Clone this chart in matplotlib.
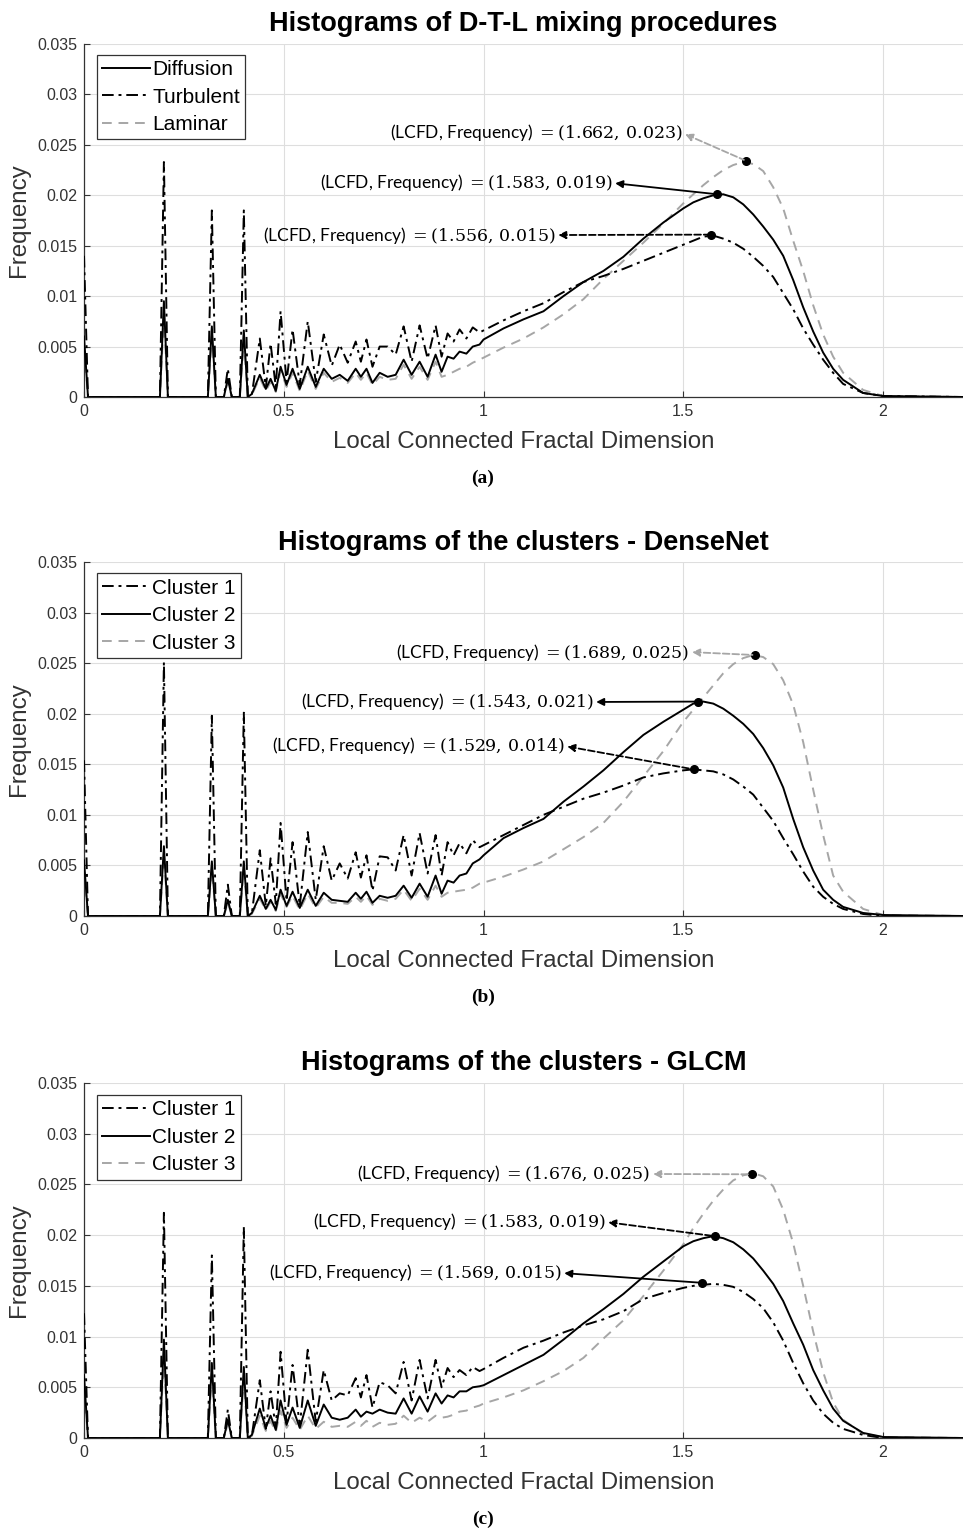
import matplotlib
matplotlib.use('Agg')
import matplotlib.pyplot as plt
import numpy as np

plt.rcParams['font.family'] = ['Liberation Sans', 'DejaVu Sans']
plt.rcParams['mathtext.fontset'] = 'dejavuserif'

# histogram bin centres (Local Connected Fractal Dimension)
lcfd = [0, 0.01, 0.19, 0.2, 0.21, 0.31, 0.32, 0.33, 0.35, 0.36, 0.37, 0.39, 0.4, 0.41,
        0.42, 0.44, 0.455, 0.467, 0.48, 0.492, 0.507, 0.522, 0.54, 0.56, 0.58, 0.6,
        0.62, 0.64, 0.66, 0.68, 0.693, 0.707, 0.722, 0.74, 0.76, 0.78, 0.8, 0.82, 0.84,
        0.86, 0.88, 0.895, 0.91, 0.925, 0.94, 0.957, 0.973, 0.99,
        1.0, 1.05, 1.1, 1.15, 1.2, 1.25, 1.3, 1.35, 1.4, 1.45,
        1.5, 1.525, 1.55, 1.575, 1.6, 1.625, 1.65, 1.675, 1.7, 1.725,
        1.75, 1.775, 1.8, 1.825, 1.85, 1.875, 1.9, 1.95, 2.0, 2.2]

# (a) D-T-L mixing procedures
diffusion = [0.0060, 0, 0, 0.0095, 0, 0, 0.0070, 0, 0, 0.0018, 0, 0, 0.0066, 0,
             0.0003, 0.0022, 0.0008, 0.0018, 0.0006, 0.0030, 0.0012, 0.0028, 0.0008, 0.0030,
             0.0010, 0.0028, 0.0018, 0.0022, 0.0016, 0.0028, 0.0020, 0.0028, 0.0014, 0.0024,
             0.0020, 0.0022, 0.0037, 0.0022, 0.0035, 0.0020, 0.0042, 0.0025, 0.0040, 0.0038,
             0.0045, 0.0043, 0.0050, 0.0052,
             0.0057, 0.0068, 0.0077, 0.0085, 0.0100, 0.0114, 0.0125, 0.0139, 0.0157, 0.0173,
             0.0187, 0.0193, 0.0197, 0.0200, 0.0201, 0.0198, 0.0191, 0.0181, 0.0169, 0.0156,
             0.0140, 0.0116, 0.0089, 0.0065, 0.0044, 0.0028, 0.0017, 0.0004, 0.0001, 0]
turbulent = [0.0140, 0, 0, 0.0233, 0, 0, 0.0185, 0, 0, 0.0028, 0, 0, 0.0185, 0,
             0.0002, 0.0058, 0.0009, 0.0053, 0.0010, 0.0085, 0.0015, 0.0067, 0.0012, 0.0075,
             0.0015, 0.0062, 0.0031, 0.0052, 0.0034, 0.0055, 0.0035, 0.0057, 0.0030, 0.0050,
             0.0050, 0.0042, 0.0070, 0.0035, 0.0071, 0.0038, 0.0071, 0.0040, 0.0063, 0.0055,
             0.0067, 0.0058, 0.0069, 0.0064,
             0.0066, 0.0076, 0.0085, 0.0093, 0.0104, 0.0114, 0.0120, 0.0127, 0.0135, 0.0143,
             0.0151, 0.0155, 0.0159, 0.0160, 0.0157, 0.0153, 0.0147, 0.0139, 0.0130, 0.0119,
             0.0103, 0.0087, 0.0068, 0.0052, 0.0037, 0.0024, 0.0013, 0.0004, 0.0001, 0]
laminar = [0.0050, 0, 0, 0.0080, 0, 0, 0.0060, 0, 0, 0.0015, 0, 0, 0.0055, 0,
           0.0002, 0.0019, 0.0006, 0.0015, 0.0005, 0.0026, 0.0010, 0.0024, 0.0006, 0.0026,
           0.0008, 0.0024, 0.0015, 0.0019, 0.0014, 0.0024, 0.0017, 0.0024, 0.0012, 0.0020,
           0.0017, 0.0018, 0.0032, 0.0018, 0.0030, 0.0017, 0.0035, 0.0020, 0.0022, 0.0025,
           0.0028, 0.0030, 0.0034, 0.0037,
           0.0039, 0.0049, 0.0058, 0.0069, 0.0082, 0.0097, 0.0117, 0.0135, 0.0153, 0.0172,
           0.0192, 0.0201, 0.0210, 0.0218, 0.0225, 0.0230, 0.0233, 0.0231, 0.0224, 0.0208,
           0.0187, 0.0155, 0.0125, 0.0091, 0.0062, 0.0040, 0.0024, 0.0007, 0.0001, 0]

# (b) clusters - DenseNet
dn_cluster1 = [0.0154, 0, 0, 0.0251, 0, 0, 0.0198, 0, 0, 0.0031, 0, 0, 0.0201, 0,
               0.0002, 0.0065, 0.0010, 0.0057, 0.0012, 0.0092, 0.0015, 0.0073, 0.0010, 0.0083,
               0.0016, 0.0069, 0.0035, 0.0052, 0.0037, 0.0063, 0.0038, 0.0060, 0.0025, 0.0059,
               0.0058, 0.0045, 0.0080, 0.0040, 0.0082, 0.0042, 0.0080, 0.0040, 0.0073, 0.0060,
               0.0072, 0.0062, 0.0075, 0.0068,
               0.0070, 0.0080, 0.0090, 0.0100, 0.0108, 0.0116, 0.0122, 0.0129, 0.0137, 0.0141,
               0.0144, 0.0145, 0.0144, 0.0143, 0.0140, 0.0135, 0.0128, 0.0120, 0.0107, 0.0094,
               0.0077, 0.0061, 0.0044, 0.0029, 0.0019, 0.0012, 0.0007, 0.0002, 0, 0]
dn_cluster2 = [0.0055, 0, 0, 0.0069, 0, 0, 0.0054, 0, 0, 0.0016, 0, 0, 0.0054, 0,
               0.0003, 0.0020, 0.0007, 0.0016, 0.0006, 0.0026, 0.0010, 0.0024, 0.0008, 0.0026,
               0.0010, 0.0023, 0.0016, 0.0015, 0.0014, 0.0023, 0.0017, 0.0024, 0.0013, 0.0020,
               0.0018, 0.0020, 0.0030, 0.0018, 0.0032, 0.0019, 0.0040, 0.0022, 0.0035, 0.0033,
               0.0040, 0.0042, 0.0052, 0.0056,
               0.0060, 0.0077, 0.0087, 0.0096, 0.0113, 0.0128, 0.0144, 0.0162, 0.0179, 0.0192,
               0.0204, 0.0210, 0.0212, 0.0210, 0.0205, 0.0198, 0.0190, 0.0180, 0.0166, 0.0149,
               0.0127, 0.0096, 0.0068, 0.0045, 0.0026, 0.0016, 0.0009, 0.0003, 0.0001, 0]
dn_cluster3 = [0.0045, 0, 0, 0.0060, 0, 0, 0.0046, 0, 0, 0.0013, 0, 0, 0.0046, 0,
               0.0002, 0.0017, 0.0006, 0.0014, 0.0005, 0.0022, 0.0009, 0.0020, 0.0006, 0.0022,
               0.0008, 0.0019, 0.0013, 0.0013, 0.0012, 0.0019, 0.0014, 0.0020, 0.0011, 0.0017,
               0.0015, 0.0017, 0.0026, 0.0015, 0.0027, 0.0016, 0.0030, 0.0019, 0.0023, 0.0024,
               0.0025, 0.0026, 0.0028, 0.0032,
               0.0033, 0.0039, 0.0046, 0.0054, 0.0066, 0.0078, 0.0092, 0.0113, 0.0138, 0.0163,
               0.0192, 0.0204, 0.0216, 0.0228, 0.0240, 0.0249, 0.0255, 0.0258, 0.0256, 0.0249,
               0.0233, 0.0209, 0.0172, 0.0125, 0.0080, 0.0040, 0.0024, 0.0007, 0.0001, 0]

# (c) clusters - GLCM
gl_cluster1 = [0.0123, 0, 0, 0.0222, 0, 0, 0.0180, 0, 0, 0.0028, 0, 0, 0.0208, 0,
               0.0002, 0.0057, 0.0009, 0.0046, 0.0010, 0.0085, 0.0015, 0.0072, 0.0012, 0.0087,
               0.0016, 0.0067, 0.0037, 0.0044, 0.0042, 0.0059, 0.0040, 0.0062, 0.0030, 0.0055,
               0.0052, 0.0044, 0.0075, 0.0037, 0.0077, 0.0039, 0.0077, 0.0050, 0.0069, 0.0060,
               0.0067, 0.0062, 0.0070, 0.0066,
               0.0068, 0.0079, 0.0089, 0.0096, 0.0104, 0.0111, 0.0117, 0.0125, 0.0137, 0.0143,
               0.0148, 0.0150, 0.0151, 0.0152, 0.0151, 0.0149, 0.0144, 0.0137, 0.0128, 0.0114,
               0.0096, 0.0074, 0.0054, 0.0037, 0.0024, 0.0015, 0.0009, 0.0003, 0, 0]
gl_cluster2 = [0.0062, 0, 0, 0.0097, 0, 0, 0.0074, 0, 0, 0.0018, 0, 0, 0.0070, 0,
               0.0003, 0.0029, 0.0010, 0.0022, 0.0008, 0.0037, 0.0013, 0.0030, 0.0010, 0.0037,
               0.0012, 0.0033, 0.0020, 0.0018, 0.0020, 0.0028, 0.0021, 0.0026, 0.0024, 0.0028,
               0.0025, 0.0024, 0.0039, 0.0024, 0.0041, 0.0026, 0.0044, 0.0034, 0.0042, 0.0040,
               0.0046, 0.0046, 0.0050, 0.0051,
               0.0052, 0.0062, 0.0072, 0.0082, 0.0097, 0.0113, 0.0127, 0.0142, 0.0159, 0.0174,
               0.0189, 0.0194, 0.0197, 0.0199, 0.0197, 0.0193, 0.0186, 0.0177, 0.0165, 0.0152,
               0.0135, 0.0113, 0.0092, 0.0067, 0.0047, 0.0029, 0.0017, 0.0005, 0.0001, 0]
gl_cluster3 = [0.0050, 0, 0, 0.0080, 0, 0, 0.0060, 0, 0, 0.0014, 0, 0, 0.0058, 0,
               0.0002, 0.0022, 0.0007, 0.0017, 0.0006, 0.0027, 0.0010, 0.0020, 0.0008, 0.0022,
               0.0009, 0.0016, 0.0011, 0.0012, 0.0011, 0.0016, 0.0012, 0.0017, 0.0011, 0.0015,
               0.0013, 0.0014, 0.0022, 0.0015, 0.0020, 0.0016, 0.0022, 0.0020, 0.0021, 0.0023,
               0.0026, 0.0027, 0.0030, 0.0032,
               0.0034, 0.0040, 0.0047, 0.0056, 0.0066, 0.0079, 0.0098, 0.0116, 0.0140, 0.0165,
               0.0191, 0.0207, 0.0221, 0.0234, 0.0245, 0.0254, 0.0259, 0.0261, 0.0258, 0.0248,
               0.0225, 0.0192, 0.0150, 0.0105, 0.0065, 0.0035, 0.0018, 0.0004, 0.0001, 0]

# marked peaks (top, middle, bottom note) and the values shown in the notes
peaks_a_x = [1.658, 1.585, 1.570]
peaks_a_y = [0.0234, 0.0201, 0.0161]
notes_a = [(1.662, 0.023), (1.583, 0.019), (1.556, 0.015)]
peaks_b_x = [1.680, 1.5375, 1.526]
peaks_b_y = [0.0258, 0.0212, 0.0145]
notes_b = [(1.689, 0.025), (1.543, 0.021), (1.529, 0.014)]
peaks_c_x = [1.673, 1.579, 1.547]
peaks_c_y = [0.0260, 0.0199, 0.0153]
notes_c = [(1.676, 0.025), (1.583, 0.019), (1.569, 0.015)]

GRAY = '#a6a6a6'
AXC = '#333333'
solid = dict(color='black', lw=1.4, ls='-', zorder=3)
dashdot = dict(color='black', lw=1.4, ls=(0, (6, 2.5, 1.5, 2.5)), zorder=4)
graydash = dict(color=GRAY, lw=1.4, ls=(0, (5, 3.5)), zorder=2)


def draw_panel(ax, title, curves, px, py, notes, note_pos, arrow_styles, leg_top):
    for y, name, style in curves:
        ax.plot(lcfd, y, label=name, **style)
    ax.set_xlim(0, 2.2)
    ax.set_ylim(0, 0.035)
    ax.set_xticks([0, 0.5, 1, 1.5, 2])
    ax.set_xticklabels(['0', '0.5', '1', '1.5', '2'])
    ax.set_yticks(np.arange(0, 0.0351, 0.005))
    ax.set_yticklabels(['0', '0.005', '0.01', '0.015', '0.02', '0.025', '0.03', '0.035'])
    ax.grid(True, color='#dedede', lw=0.8)
    ax.set_axisbelow(True)
    for s in ['top', 'right']:
        ax.spines[s].set_visible(False)
    for s in ['left', 'bottom']:
        ax.spines[s].set_color(AXC)
        ax.spines[s].set_linewidth(0.9)
    ax.tick_params(direction='in', length=4, colors=AXC, labelsize=11.5, pad=5)
    ax.set_title(title, fontsize=19.5, fontweight='bold', pad=9)
    ax.set_xlabel('Local Connected Fractal Dimension', fontsize=17.4, color=AXC, labelpad=8.5)
    ax.set_ylabel('Frequency', fontsize=17.4, color=AXC, labelpad=5)

    ax.plot(px, py, 'o', color='black', ms=5.5, zorder=6)
    for (vx, vy), (tx, ty), (col, ls), x0, y0 in zip(notes, note_pos, arrow_styles, px, py):
        label = '(LCFD, Frequency) $= (%.3f,\\,%.3f)$' % (vx, vy)
        ax.annotate(label, xy=(x0, y0), xytext=(tx, ty), ha='right', va='center',
                    fontsize=12.5, family=['Lato', 'DejaVu Sans'], color='black', zorder=7,
                    arrowprops=dict(arrowstyle='<|-', color=col, lw=1.3, ls=ls,
                                    shrinkA=0, shrinkB=2, mutation_scale=11,
                                    relpos=(1, 0.5)))

    leg = ax.legend(loc='upper left', bbox_to_anchor=(0.0148, leg_top), borderaxespad=0,
                    fontsize=15, handlelength=2.3, handletextpad=0.1, borderpad=0.25,
                    labelspacing=0.41, fancybox=False, framealpha=1)
    leg.get_frame().set_edgecolor(AXC)
    leg.get_frame().set_linewidth(0.9)


fig = plt.figure(figsize=(9.63, 15.3), dpi=100)
H = 1530.0
W = 963.0
left = 84 / W
width = 1.0 - left
ax_a = fig.add_axes([left, 1 - 397 / H, width, 353 / H])
ax_b = fig.add_axes([left, 1 - 916 / H, width, 354 / H])
ax_c = fig.add_axes([left, 1 - 1438 / H, width, 355 / H])

draw_panel(ax_a, 'Histograms of D-T-L mixing procedures',
           [(diffusion, 'Diffusion', solid), (turbulent, 'Turbulent', dashdot),
            (laminar, 'Laminar', graydash)],
           peaks_a_x, peaks_a_y, notes_a,
           [(1.4975, 0.02618), (1.3225, 0.02122), (1.18, 0.01606)],
           [(GRAY, '--'), ('black', '-'), ('black', '--')], 0.969)

draw_panel(ax_b, 'Histograms of the clusters - DenseNet',
           [(dn_cluster1, 'Cluster 1', dashdot), (dn_cluster2, 'Cluster 2', solid),
            (dn_cluster3, 'Cluster 3', graydash)],
           peaks_b_x, peaks_b_y, notes_b,
           [(1.515, 0.0261), (1.275, 0.02116), (1.2025, 0.01681)],
           [(GRAY, '--'), ('black', '-'), ('black', '--')], 0.968)

draw_panel(ax_c, 'Histograms of the clusters - GLCM',
           [(gl_cluster1, 'Cluster 1', dashdot), (gl_cluster2, 'Cluster 2', solid),
            (gl_cluster3, 'Cluster 3', graydash)],
           peaks_c_x, peaks_c_y, notes_c,
           [(1.4175, 0.02603), (1.305, 0.0213), (1.195, 0.01627)],
           [(GRAY, '--'), ('black', '--'), ('black', '-')], 0.966)

for cap, yc in [('(a)', 478), ('(b)', 997), ('(c)', 1519)]:
    fig.text(483 / W, 1 - yc / H, cap, ha='center', va='center', fontsize=14,
             fontweight='bold', family='Liberation Serif')

fig.savefig('out.png', dpi=100)
